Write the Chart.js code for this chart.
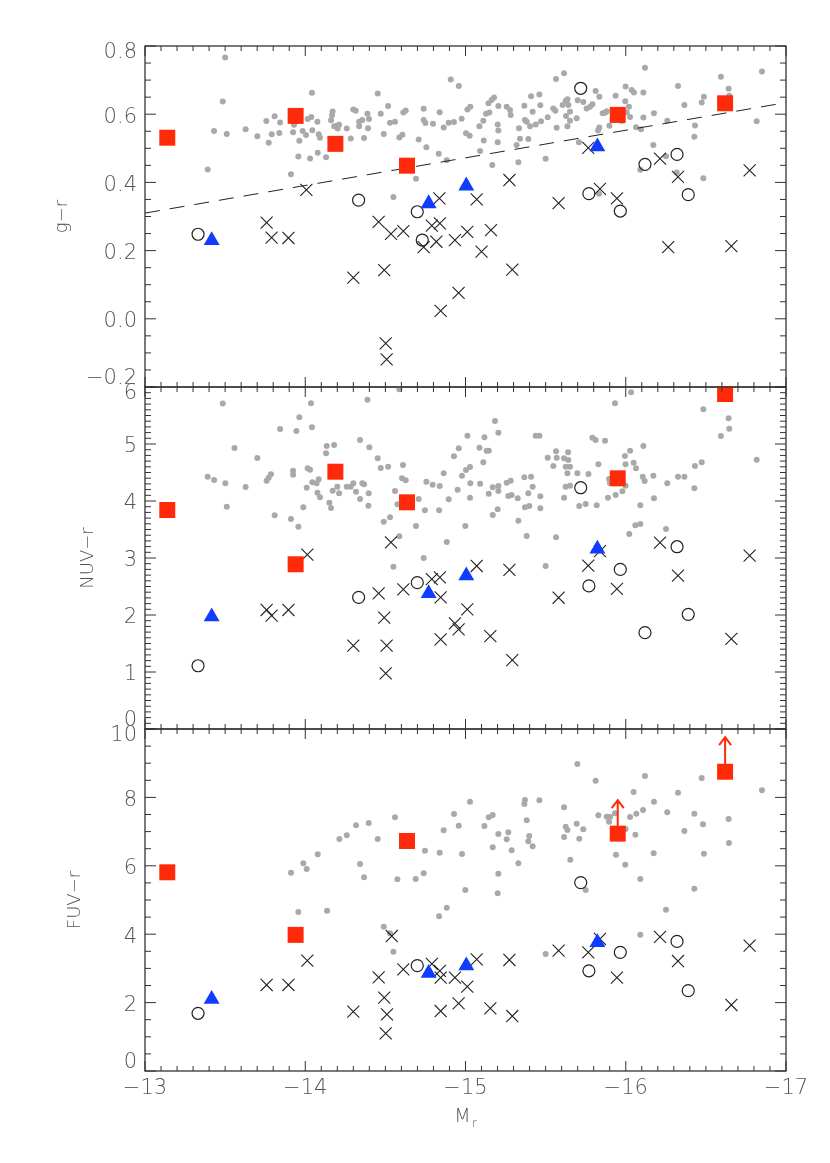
<!DOCTYPE html>
<html lang="en">
<head>
<meta charset="UTF-8">
<title>Colour - magnitude panels</title>
<script src="https://cdn.jsdelivr.net/npm/chart.js"></script>
<style>
  body { margin: 0; background: #fff; }
  .wrap { position: relative; width: 830px; height: 1163px; }
  .wrap canvas { position: absolute; left: 0; top: 0; }
</style>
</head>
<body>
<div class="wrap">
  <canvas id="panelTop" width="830" height="1163"></canvas>
  <canvas id="panelMid" width="830" height="1163"></canvas>
  <canvas id="panelBot" width="830" height="1163"></canvas>
</div>
<script>
// x axis (M_r) ticks
const xTickVals = [-13, -14, -15, -16, -17];

// red squares (same objects in every panel)
const sqX = [-13.139, -13.94, -14.188, -14.635, -15.95, -16.62];
const topSqY = [0.531, 0.595, 0.513, 0.449, 0.598, 0.632];
const midSqY = [3.842, 2.89, 4.514, 3.977, 4.398, 5.877];
const botSqY = [5.81, 3.98, null, 6.725, 6.94, 8.75];

// FUV lower limits (arrows)
const limX = [-15.95, -16.62];
const limFrom = [6.94, 8.75];
const limTo = [7.92, 9.76];

// blue triangles
const triX = [-13.416, -14.77, -15.005, -15.823];
const topTriY = [0.23, 0.338, 0.39, 0.505];
const midTriY = [1.97, 2.38, 2.69, 3.16];
const botTriY = [2.10, 2.86, 3.08, 3.76];

// open circles
const circX = [-13.331, -14.333, -14.699, -14.73, -15.719, -15.77, -15.966, -16.12, -16.32, -16.39];
const topCircY = [0.248, 0.348, 0.314, 0.231, 0.676, 0.367, 0.316, 0.453, 0.482, 0.364];
const midCircY = [1.11, 2.31, 2.567, null, 4.233, 2.51, 2.80, 1.69, 3.198, 2.012];
const botCircY = [1.687, null, 3.08, null, 5.51, 2.93, 3.47, null, 3.79, 2.35];

// crosses
const topCrossX = [-14.007, -13.759, -13.79, -13.895, -14.458, -14.535, -14.612, -14.79, -14.84, -14.837, -14.739, -14.818, -14.934, -15.011, -15.07, -15.1, -14.3, -14.493, -14.957, -14.845, -14.502, -14.508, -15.159, -15.274, -15.292, -15.581, -15.766, -15.839, -15.945, -16.214, -16.326, -16.265, -16.659, -16.773];
const topCrossY = [0.378, 0.282, 0.238, 0.237, 0.284, 0.249, 0.257, 0.273, 0.28, 0.353, 0.21, 0.226, 0.231, 0.255, 0.35, 0.197, 0.121, 0.143, 0.076, 0.023, -0.072, -0.119, 0.26, 0.407, 0.144, 0.339, 0.501, 0.381, 0.353, 0.47, 0.416, 0.21, 0.213, 0.435];
const midCrossX = [-14.013, -13.759, -13.79, -13.895, -14.535, -14.458, -14.493, -14.612, -14.3, -14.508, -14.502, -14.79, -14.84, -14.845, -14.845, -14.934, -14.957, -15.011, -15.07, -15.155, -15.274, -15.292, -15.581, -15.766, -15.839, -15.945, -16.214, -16.326, -16.659, -16.773];
const midCrossY = [3.058, 2.088, 1.988, 2.088, 3.275, 2.38, 1.953, 2.45, 1.462, 1.462, 0.977, 2.63, 2.66, 2.31, 1.573, 1.854, 1.749, 2.1, 2.86, 1.63, 2.79, 1.21, 2.303, 2.865, 3.12, 2.46, 3.27, 2.69, 1.58, 3.04];
const botCrossX = [-14.013, -13.759, -13.895, -14.54, -14.458, -14.493, -14.51, -14.502, -14.3, -14.612, -14.79, -14.84, -14.845, -14.845, -14.934, -14.957, -15.011, -15.07, -15.155, -15.274, -15.292, -15.581, -15.766, -15.839, -15.945, -16.214, -16.326, -16.659, -16.773];
const botCrossY = [3.225, 2.515, 2.515, 3.947, 2.74, 2.143, 1.658, 1.1, 1.734, 2.974, 3.13, 2.93, 2.73, 1.754, 2.73, 1.98, 2.465, 3.265, 1.833, 3.246, 1.608, 3.52, 3.47, 3.86, 2.73, 3.92, 3.216, 1.93, 3.665];

// grey dots, g-r
const topDotX = [-13.50, -13.485, -13.431, -13.51, -13.391, -13.628, -13.701, -13.757, -13.772, -13.791, -13.809, -13.843, -13.838, -13.911, -13.924, -13.93, -13.957, -13.963, -13.984, -14.015, -14.03, -14.038, -14.042, -14.044, -14.005, -14.076, -14.078, -14.084, -14.092, -14.13, -14.161, -14.167, -14.171, -14.18, -14.196, -14.202, -14.211, -14.259, -14.284, -14.30, -14.315, -14.336, -14.336, -14.356, -14.367, -14.388, -14.392, -14.398, -14.452, -14.471, -14.49, -14.517, -14.529, -14.56, -14.55, -14.587, -14.606, -14.612, -14.627, -14.691, -14.708, -14.739, -14.739, -14.75, -14.756, -14.797, -14.833, -14.839, -14.864, -14.883, -14.895, -14.908, -14.928, -14.958, -14.976, -15.003, -15.026, -15.012, -15.03, -15.087, -15.091, -15.111, -15.114, -15.143,
  -15.128, -15.149, -15.163, -15.178, -15.205, -15.201, -15.205, -15.201, -15.167, -15.257, -15.278, -15.282, -15.319, -15.33, -15.334, -15.34, -15.367, -15.371, -15.382, -15.392, -15.403, -15.409, -15.419, -15.438, -15.461, -15.467, -15.471, -15.50, -15.513, -15.548, -15.565, -15.561, -15.569, -15.606, -15.615, -15.625, -15.627, -15.636, -15.636, -15.642, -15.652, -15.652, -15.694, -15.70, -15.708, -15.735, -15.756, -15.777, -15.792, -15.812, -15.835, -15.827, -15.835, -15.833, -15.856, -15.871, -15.881, -15.898, -15.937, -15.975, -15.997, -15.999, -16.006, -16.02, -16.027, -16.037, -16.051, -16.064, -16.095, -16.091, -16.11, -16.11, -16.12, -16.176, -16.172, -16.251, -16.259, -16.326, -16.318, -16.366, -16.428, -16.432, -16.474, -16.484, -16.488, -16.594, -16.642, -16.646, -16.817, -16.85];
const topDotY = [0.766, 0.637, 0.551, 0.542, 0.438, 0.556, 0.535, 0.580, 0.516, 0.541, 0.594, 0.576, 0.545, 0.424, 0.547, 0.569, 0.476, 0.522, 0.551, 0.586, 0.470, 0.592, 0.663, 0.553, 0.539, 0.578, 0.487, 0.541, 0.531, 0.474, 0.582, 0.597, 0.608, 0.565, 0.566, 0.558, 0.569, 0.558, 0.529, 0.614, 0.610, 0.578, 0.565, 0.583, 0.530, 0.601, 0.559, 0.586, 0.661, 0.601, 0.542, 0.624, 0.575, 0.578, 0.357, 0.532, 0.540, 0.605, 0.611, 0.411, 0.526, 0.616, 0.583, 0.574, 0.503, 0.572, 0.484, 0.606, 0.561, 0.465, 0.575, 0.702, 0.577, 0.683, 0.587, 0.544, 0.537, 0.614, 0.622, 0.565, 0.492, 0.581, 0.523, 0.632,
  0.601, 0.605, 0.642, 0.649, 0.624, 0.570, 0.552, 0.518, 0.451, 0.622, 0.612, 0.598, 0.510, 0.459, 0.559, 0.528, 0.625, 0.583, 0.578, 0.527, 0.565, 0.653, 0.607, 0.570, 0.658, 0.626, 0.579, 0.469, 0.591, 0.617, 0.703, 0.610, 0.560, 0.627, 0.720, 0.639, 0.595, 0.644, 0.565, 0.627, 0.581, 0.607, 0.588, 0.641, 0.518, 0.636, 0.617, 0.622, 0.629, 0.668, 0.651, 0.552, 0.561, 0.367, 0.603, 0.604, 0.609, 0.566, 0.654, 0.580, 0.638, 0.681, 0.606, 0.622, 0.592, 0.671, 0.664, 0.562, 0.556, 0.437, 0.664, 0.590, 0.736, 0.603, 0.510, 0.477, 0.581, 0.683, 0.429, 0.627, 0.534, 0.567, 0.634, 0.412, 0.651, 0.710, 0.675, 0.654, 0.579, 0.725];

// grey dots, NUV-r
const midDotX = [-13.485, -13.391, -13.431, -13.501, -13.51, -13.558, -13.628, -13.701, -13.759, -13.772, -13.786, -13.809, -13.843, -13.911, -13.924, -13.924, -13.945, -13.957, -13.963, -13.988, -14.009, -14.015, -14.03, -14.036, -14.042, -14.044, -14.071, -14.076, -14.084, -14.092, -14.13, -14.134, -14.15, -14.161, -14.171, -14.18, -14.20, -14.211, -14.259, -14.284, -14.30, -14.317, -14.342, -14.342, -14.356, -14.367, -14.388, -14.396, -14.394, -14.40, -14.452, -14.471, -14.49, -14.517, -14.529, -14.55, -14.56, -14.587, -14.587, -14.61, -14.604, -14.627, -14.575, -14.691, -14.708, -14.739, -14.747, -14.756, -14.795, -14.835, -14.839, -14.864, -14.883, -14.895, -14.928, -14.951, -14.958, -14.978, -14.999, -15.003, -15.012, -15.028, -15.03, -15.028, -15.087, -15.091, -15.111, -15.118, -15.132, -15.145, -15.145,
  -15.17, -15.17, -15.184, -15.201, -15.205, -15.205, -15.205, -15.257, -15.267, -15.282, -15.288, -15.326, -15.33, -15.367, -15.371, -15.382, -15.398, -15.409, -15.419, -15.392, -15.438, -15.461, -15.467, -15.467, -15.50, -15.513, -15.548, -15.565, -15.569, -15.565, -15.615, -15.615, -15.625, -15.636, -15.64, -15.642, -15.652, -15.625, -15.652, -15.698, -15.71, -15.75, -15.767, -15.792, -15.812, -15.819, -15.829, -15.871, -15.889, -15.896, -15.902, -15.933, -15.937, -15.979, -15.995, -15.999, -15.999, -16.022, -16.027, -16.033, -16.049, -16.06, -16.064, -16.091, -16.091, -16.106, -16.11, -16.118, -16.172, -16.176, -16.251, -16.259, -16.326, -16.366, -16.428, -16.432, -16.474, -16.484, -16.594, -16.642, -16.646, -16.817];
const midDotY = [5.71, 4.427, 4.368, 4.31, 3.901, 4.93, 4.246, 4.754, 4.357, 4.41, 4.468, 3.749, 5.263, 3.684, 4.532, 4.462, 5.228, 3.55, 5.468, 3.889, 4.234, 4.573, 4.55, 5.713, 5.292, 4.328, 4.31, 4.146, 4.38, 4.064, 4.836, 4.965, 3.971, 3.877, 4.181, 4.982, 4.252, 4.134, 4.252, 4.252, 4.31, 4.164, 5.07, 4.035, 4.31, 4.292, 5.778, 4.134, 3.918, 4.942, 4.749, 4.579, 3.638, 4.602, 3.713, 2.848, 4.175, 3.38, 5.959, 4.632, 4.398, 4.363, 3.942, 3.561, 4.035, 3.0, 3.836, 4.339, 4.287, 3.836, 4.263, 4.485, 3.281, 4.029, 4.784, 4.199, 4.924, 4.444, 3.561, 4.544, 5.146, 4.597, 4.31, 4.059, 4.936, 4.304, 4.678, 5.117, 4.883, 4.883, 4.129,
  4.24, 3.754, 5.404, 3.854, 5.199, 4.263, 4.175, 4.322, 4.088, 4.357, 4.105, 4.047, 3.655, 4.415, 3.889, 3.386, 3.912, 4.427, 4.252, 4.134, 5.146, 5.146, 4.082, 3.871, 2.86, 4.76, 4.614, 4.871, 4.76, 3.363, 4.059, 4.749, 4.602, 4.485, 4.854, 4.719, 4.602, 4.252, 4.269, 4.485, 3.912, 3.947, 4.474, 5.111, 5.07, 3.924, 4.643, 5.058, 4.059, 4.386, 4.31, 5.713, 4.105, 4.17, 4.79, 4.643, 4.269, 3.421, 4.883, 5.906, 4.673, 3.573, 4.573, 3.924, 3.597, 4.427, 4.965, 4.351, 4.444, 4.047, 3.509, 4.31, 4.427, 4.427, 4.222, 4.614, 4.678, 5.608, 5.14, 5.45, 5.269, 4.725];

// grey dots, FUV-r
const botDotX = [-13.911, -13.957, -13.988, -14.009, -14.078, -14.136, -14.213, -14.259, -14.317, -14.342, -14.367, -14.396, -14.452, -14.49, -14.529, -14.55, -14.56, -14.575, -14.689, -14.739, -14.747, -14.835, -14.839, -14.864, -14.883, -14.928, -14.958, -14.978, -14.999, -15.028, -15.118, -15.145,
  -15.17, -15.17, -15.205, -15.205, -15.201, -15.257, -15.267, -15.288, -15.33, -15.367, -15.371, -15.382, -15.398, -15.392, -15.419, -15.461, -15.50, -15.615, -15.625, -15.615, -15.636, -15.654, -15.698, -15.694, -15.71, -15.735, -15.75, -15.812, -15.829, -15.881, -15.896, -15.902, -15.933, -15.939, -15.999, -15.997, -16.027, -16.049, -16.06, -16.066, -16.091, -16.091, -16.108, -16.12, -16.176, -16.174, -16.251, -16.259, -16.326, -16.366, -16.428, -16.428, -16.482, -16.488, -16.474, -16.642, -16.644, -16.85];
const botDotY = [5.799, 4.649, 6.072, 5.906, 6.335, 4.688, 6.783, 6.891, 7.183, 6.053, 5.663, 7.251, 6.783, 4.22, 4.025, 3.489, 7.417, 5.604, 5.614, 5.78, 6.442, 4.522, 6.384, 7.037, 4.776, 7.514, 7.173, 6.345, 5.292, 7.875, 7.164, 7.417,
  7.485, 6.54, 6.93, 5.77, 5.195, 6.774, 6.978, 6.452, 6.072, 7.807, 7.924, 7.329, 6.871, 6.715, 6.569, 7.914, 3.421, 7.709, 7.144, 6.842, 7.047, 6.179, 8.976, 7.232, 6.793, 7.066, 5.292, 8.489, 7.475, 7.436, 7.29, 7.436, 7.534, 6.325, 7.076, 6.033, 7.427, 8.158, 6.91, 7.524, 5.614, 3.986, 7.631, 8.626, 7.875, 6.364, 4.717, 7.563, 8.138, 7.017, 7.524, 5.331, 7.212, 6.355, 8.567, 7.368, 6.667, 8.206];

// dashed separation line in g-r
const fitX = [-13, -17];
const fitY = [0.31, 0.634];

// y tick labels per panel
const topTicks = [0.8, 0.6, 0.4, 0.2, 0.0, -0.2];
const midTicks = [0, 1, 2, 3, 4, 5, 6];
const botTicks = [0, 2, 4, 6, 8, 10];

const RED = '#ff2a0a';
const BLUE = '#0f3cff';
const INK = '#222';
const GREY = '#a9a9a9';
const AXIS = '#333';
const TEXT = '#555';

function pts(xs, ys) {
  return xs.map((x, i) => ({ x: x, y: ys[i] })).filter(p => p.y !== null);
}

function minus(s) { return s.replace('-', '\u2212'); }

// frame, inward ticks on all sides, labels and titles
const framePlugin = {
  id: 'frame',
  afterDatasetsDraw(chart, args, o) {
    const ctx = chart.ctx;
    const a = chart.chartArea;
    const xs = chart.scales.x, ys = chart.scales.y;
    ctx.save();

    if (o.limits) {
      ctx.strokeStyle = RED;
      ctx.lineWidth = 2;
      limX.forEach((v, i) => {
        const px = xs.getPixelForValue(v);
        const p0 = ys.getPixelForValue(limFrom[i]);
        const p1 = ys.getPixelForValue(limTo[i]);
        ctx.beginPath();
        ctx.moveTo(px, p0); ctx.lineTo(px, p1);
        ctx.moveTo(px - 6, p1 + 8); ctx.lineTo(px, p1); ctx.lineTo(px + 6, p1 + 8);
        ctx.stroke();
      });
    }

    ctx.strokeStyle = AXIS;
    ctx.lineWidth = 1.3;
    ctx.strokeRect(a.left, a.top, a.right - a.left, a.bottom - a.top);
    ctx.lineWidth = 1;
    ctx.beginPath();
    for (let i = 0; i <= 40; i++) {
      const px = xs.getPixelForValue(-13 - i * 0.1);
      const len = i % 10 === 0 ? 10 : 5;
      ctx.moveTo(px, a.bottom); ctx.lineTo(px, a.bottom - len);
      ctx.moveTo(px, a.top); ctx.lineTo(px, a.top + len);
    }
    const n = Math.round((o.max - o.min) / o.minor);
    for (let i = 0; i <= n; i++) {
      const py = ys.getPixelForValue(o.min + i * o.minor);
      const len = i % o.every === 0 ? 11 : 6;
      ctx.moveTo(a.left, py); ctx.lineTo(a.left + len, py);
      ctx.moveTo(a.right, py); ctx.lineTo(a.right - len, py);
    }
    ctx.stroke();

    ctx.fillStyle = TEXT;
    ctx.font = '300 21px "DejaVu Sans"';
    ctx.textAlign = 'right';
    ctx.textBaseline = 'middle';
    o.ticks.forEach(v => {
      // labels at the panel edges are pulled inside, as in the original
      let dy = 3;
      if (v === o.max) dy = 7;
      if (v === o.min) dy = -8;
      ctx.fillText(minus(v.toFixed(o.decimals)), a.left - 8, ys.getPixelForValue(v) + dy);
    });

    if (o.xLabels) {
      ctx.textAlign = 'center';
      xTickVals.forEach(v => {
        ctx.fillText(minus(String(v)), xs.getPixelForValue(v), a.bottom + 18);
      });
      ctx.font = '300 19px "DejaVu Sans"';
      const cx = (a.left + a.right) / 2;
      ctx.fillText('M', cx - 3, a.bottom + 46);
      ctx.font = '300 12px "DejaVu Sans"';
      ctx.fillText('r', cx + 9, a.bottom + 53);
    }

    ctx.font = '300 18px "DejaVu Sans"';
    ctx.textAlign = 'center';
    ctx.translate(o.titleX, (a.top + a.bottom) / 2);
    ctx.rotate(-Math.PI / 2);
    ctx.fillText(o.title, 0, 0);
    ctx.restore();
  }
};

function makePanel(id, p) {
  const datasets = [
    { data: pts(sqX, p.sq), pointStyle: 'rect', pointRadius: 11.3, backgroundColor: RED, borderColor: RED, borderWidth: 0 },
    { data: pts(triX, p.tri), pointStyle: 'triangle', pointRadius: 9.2, backgroundColor: BLUE, borderColor: BLUE, borderWidth: 0 },
    { data: pts(circX, p.circ), pointStyle: 'circle', pointRadius: 6, backgroundColor: 'rgba(0,0,0,0)', borderColor: INK, borderWidth: 1.2 },
    { data: pts(p.crossX, p.crossY), pointStyle: 'crossRot', pointRadius: 8.5, borderColor: INK, borderWidth: 1.1 },
    { data: pts(p.dotX, p.dotY), pointStyle: 'circle', pointRadius: 3, backgroundColor: GREY, borderWidth: 0 }
  ];
  if (p.fit) {
    datasets.splice(4, 0, { type: 'line', data: pts(fitX, fitY), showLine: true, borderColor: INK, borderWidth: 1, borderDash: [15, 10], pointRadius: 0, fill: false });
  }
  datasets.forEach(d => { d.clip = false; d.pointHoverRadius = d.pointRadius; });

  new Chart(document.getElementById(id), {
    type: 'scatter',
    data: { datasets: datasets },
    options: {
      responsive: false,
      animation: false,
      events: [],
      layout: { padding: { left: 145, right: 830 - 786, top: p.top, bottom: 1163 - p.bottom } },
      plugins: {
        legend: { display: false },
        tooltip: { enabled: false },
        frame: p.frame
      },
      scales: {
        x: { type: 'linear', min: -17, max: -13, reverse: true, display: false },
        y: { type: 'linear', min: p.frame.min, max: p.frame.max, display: false }
      }
    },
    plugins: [framePlugin]
  });
}

makePanel('panelTop', {
  top: 46, bottom: 387, sq: topSqY, tri: topTriY, circ: topCircY,
  crossX: topCrossX, crossY: topCrossY, dotX: topDotX, dotY: topDotY, fit: true,
  frame: { min: -0.2, max: 0.8, minor: 0.05, every: 4, ticks: topTicks, decimals: 1, title: 'g\u2212r', titleX: 62 }
});
makePanel('panelMid', {
  top: 387, bottom: 729, sq: midSqY, tri: midTriY, circ: midCircY,
  crossX: midCrossX, crossY: midCrossY, dotX: midDotX, dotY: midDotY,
  frame: { min: 0, max: 6, minor: 0.1, every: 10, ticks: midTicks, decimals: 0, title: 'NUV\u2212r', titleX: 88 }
});
makePanel('panelBot', {
  top: 729, bottom: 1071, sq: botSqY, tri: botTriY, circ: botCircY,
  crossX: botCrossX, crossY: botCrossY, dotX: botDotX, dotY: botDotY,
  frame: { min: 0, max: 10, minor: 0.5, every: 4, ticks: botTicks, decimals: 0, title: 'FUV\u2212r', titleX: 75, xLabels: true, limits: true }
});
</script>
</body>
</html>
